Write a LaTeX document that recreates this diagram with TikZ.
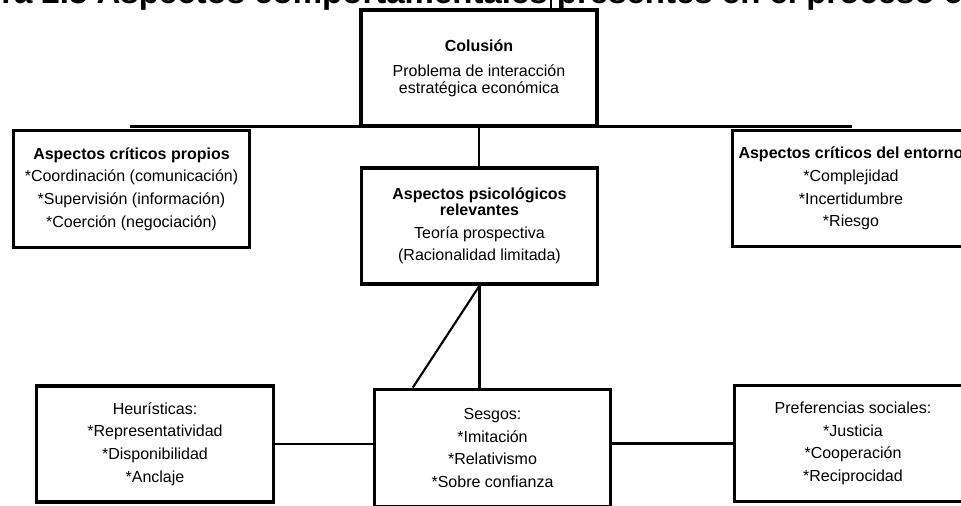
\documentclass[tikz,border=0pt]{standalone}
\usepackage{fontspec}
\setmainfont{Liberation Sans}
\usetikzlibrary{calc}
\begin{document}
\begin{tikzpicture}[x=0.75pt,y=-0.75pt,
		caja/.style={draw,line width=2.6pt,inner sep=0pt,align=center,
			minimum width=177pt,minimum height=87pt,font=\fontsize{12}{17}\selectfont},
		enlace/.style={line width=1.6pt}]
	\useasboundingbox (0,0) rectangle (961,506);
	\clip (0,0) rectangle (961,506);
	\node[anchor=base west,inner sep=0pt,font=\fontsize{24.75}{30}\selectfont\bfseries] (titulo) at (1,4) {ra 2.3 Aspectos comportamentales presentes en el proceso co};
	\node[caja,font=\fontsize{12}{13}\selectfont] (colusion) at (479,68) {\textbf{Colusión}\\[5.75pt]Problema de interacción\\estratégica económica};
	\node[caja,minimum height=88pt] (propios) at (131.5,189) {\textbf{Aspectos críticos propios}\\{}*Coordinación (comunicación)\\{}*Supervisión (información)\\{}*Coerción (negociación)};
	\node[caja] (psico) at (479.5,226) {\textbf{Aspectos psicológicos}\\[-5pt]\textbf{relevantes}\\Teoría prospectiva\\(Racionalidad limitada)};
	\node[caja,minimum width=178pt] (entorno) at (851,188.5) {\textbf{Aspectos críticos del entorno}\\{}*Complejidad\\{}*Incertidumbre\\{}*Riesgo};
	\node[caja,minimum width=178pt] (heur) at (155,444) {Heurísticas:\\{}*Representatividad\\{}*Disponibilidad\\{}*Anclaje};
	\node[caja,minimum height=88pt] (sesgos) at (492.5,448) {Sesgos:\\{}*Imitación\\{}*Relativismo\\{}*Sobre confianza};
	\node[caja,minimum width=178pt] (pref) at (853,443.5) {Preferencias sociales:\\{}*Justicia\\{}*Cooperación\\{}*Reciprocidad};
	\coordinate (hizq) at (130,126.5);
	\coordinate (hder) at (852,126.5);
	\coordinate (tope) at (551,0);
	\draw[enlace] (hizq) -- (hder);
	\draw[enlace] (tope) -- (tope |- colusion.north);
	\draw[enlace] (colusion.south) -- (colusion.south |- psico.north);
	\draw[enlace] (psico.south) -- (psico.south |- sesgos.north);
	\draw[enlace] (psico.south) -- ($(sesgos.north west)+(40,0)$);
	\draw[enlace] (heur.east) -- (heur.east -| sesgos.west);
	\draw[enlace] (pref.west -| sesgos.east) -- (pref.west);
\end{tikzpicture}
\end{document}
